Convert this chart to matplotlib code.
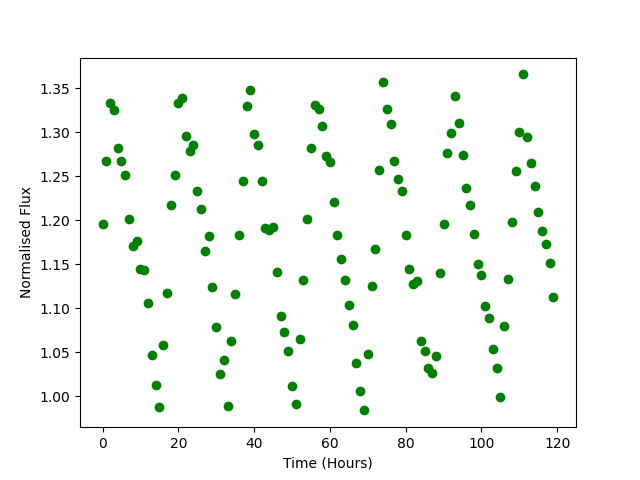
#!/usr/bin/env python3
#
#   Normalised flux against time, scatter of hourly readings
#
import matplotlib
matplotlib.use("Agg")
import matplotlib.pyplot as plt
import numpy as np

# hours 0..119
time_hours = list(range(120))

flux = [
    1.1955, 1.268, 1.334, 1.326, 1.282, 1.267, 1.2515, 1.2015, 1.1705, 1.177,
    1.1443, 1.1432, 1.106, 1.0466, 1.0125, 0.9875, 1.058, 1.117, 1.217, 1.2515,
    1.333, 1.339, 1.296, 1.2784, 1.2856, 1.2333, 1.2128, 1.1648, 1.1818, 1.1242,
    1.0784, 1.025, 1.041, 0.989, 1.0628, 1.1162, 1.183, 1.2443, 1.3299, 1.348,
    1.2977, 1.2856, 1.2443, 1.191, 1.1886, 1.1924, 1.1409, 1.0909, 1.0727, 1.0515,
    1.0114, 0.991, 1.0648, 1.1318, 1.2015, 1.2818, 1.331, 1.327, 1.307, 1.2734,
    1.266, 1.2208, 1.183, 1.1557, 1.1318, 1.1034, 1.0807, 1.0375, 1.0057, 0.984,
    1.0477, 1.1253, 1.168, 1.2568, 1.3568, 1.327, 1.310, 1.267, 1.2466, 1.233,
    1.183, 1.1447, 1.1273, 1.1307, 1.0628, 1.0515, 1.0318, 1.026, 1.0455, 1.1398,
    1.1955, 1.2765, 1.2989, 1.342, 1.311, 1.274, 1.2364, 1.217, 1.184, 1.15,
    1.1378, 1.1023, 1.0886, 1.0534, 1.0318, 0.999, 1.0795, 1.133, 1.1977, 1.2557,
    1.3, 1.366, 1.2943, 1.2648, 1.2386, 1.2094, 1.1875, 1.1727, 1.1511, 1.1125,
]

plt.figure(figsize=(6.4, 4.8), dpi=100)
plt.plot(time_hours, flux, 'go')
plt.xlabel("Time (Hours)")
plt.ylabel("Normalised Flux")
plt.savefig("out.png")
